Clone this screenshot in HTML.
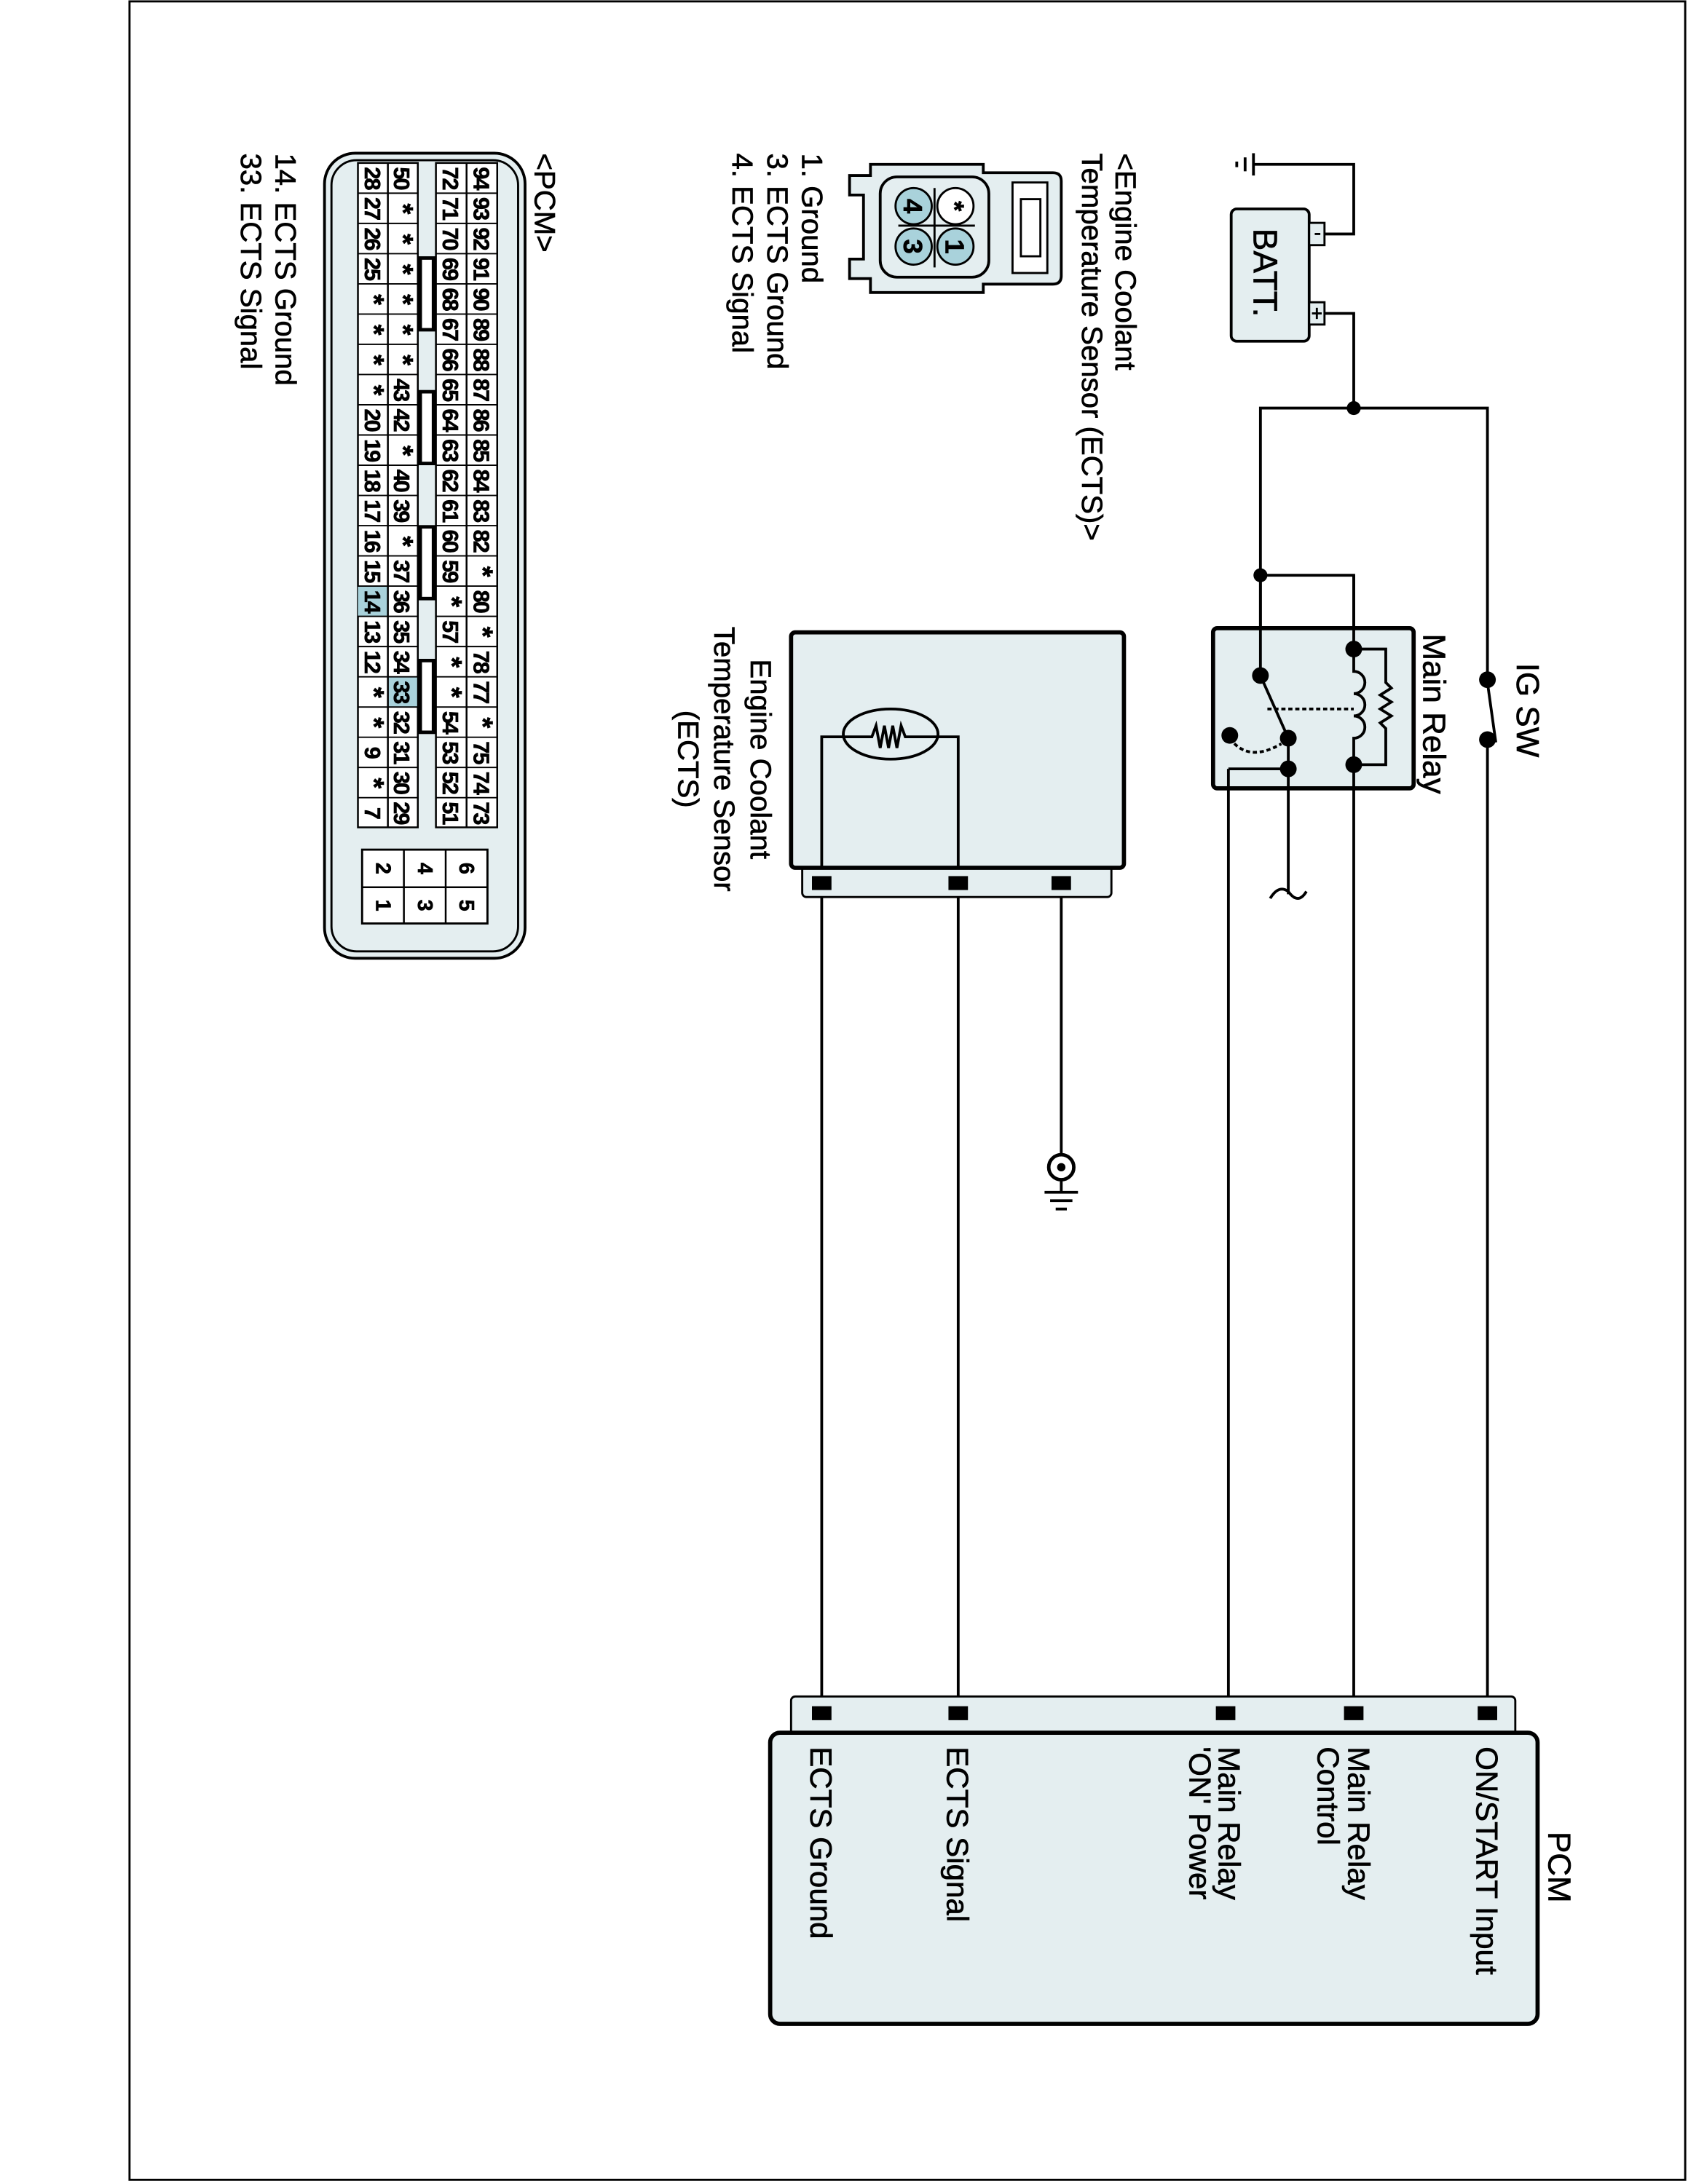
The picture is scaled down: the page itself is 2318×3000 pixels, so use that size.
<!DOCTYPE html>
<html><head><meta charset="utf-8"><style>
html,body{margin:0;padding:0;background:#fff;}
svg{display:block;}
text{font-family:"Liberation Sans",Arial,sans-serif;fill:#000;stroke:#000;stroke-width:0.35;}
</style></head><body>
<svg width="2318" height="3000" viewBox="0 0 1212 1568" preserveAspectRatio="none" xmlns="http://www.w3.org/2000/svg">
<rect x="0" y="0" width="1212" height="1568" fill="#fff"/>
<rect x="93" y="1" width="1117" height="1564" fill="none" stroke="#000" stroke-width="1.5"/>

<g stroke="#000" stroke-width="2" fill="none">
<polyline points="940,168 972,168 972,118 900,118"/>
<polyline points="940,225 972,225 972,293"/>
<polyline points="905,413 905,293 1068,293 1068,488"/>
<polyline points="1068,531 1068,1230"/>
<polyline points="905,413 972,413 972,466"/>
<line x1="905" y1="413" x2="905" y2="485"/>
<line x1="972" y1="549" x2="972" y2="1230"/>
<polyline points="925,552 882,552 882,1230"/>
<polyline points="925,530 925,642"/>
<path d="M912,645 Q918,635 925,640 Q932,650 938,640"/>
<line x1="590" y1="634" x2="590" y2="1230"/>
<line x1="688" y1="634" x2="688" y2="1230"/>
<line x1="762" y1="634" x2="762" y2="830"/>
</g>

<g stroke="#000" stroke-width="2">
<line x1="900" y1="110" x2="900" y2="126"/>
<line x1="894" y1="113" x2="894" y2="123"/>
<line x1="888" y1="116" x2="888" y2="120"/>
</g>

<rect x="884" y="150" width="56" height="95" rx="4" fill="#e4eef0" stroke="#000" stroke-width="2"/>
<rect x="940" y="160" width="11" height="16" fill="#e4eef0" stroke="#000" stroke-width="1.5"/>
<rect x="940" y="217" width="11" height="16" fill="#e4eef0" stroke="#000" stroke-width="1.5"/>
<line x1="944" y1="168" x2="948" y2="168" stroke="#000" stroke-width="1.5"/>
<line x1="942" y1="225" x2="949" y2="225" stroke="#000" stroke-width="1.5"/>
<line x1="945.5" y1="221" x2="945.5" y2="229" stroke="#000" stroke-width="1.5"/>
<text transform="translate(900,164) rotate(90)" font-size="24">BATT.</text>

<circle cx="1068" cy="488" r="6"/>
<circle cx="1068" cy="531" r="6"/>
<line x1="1068" y1="490" x2="1074" y2="533" stroke="#000" stroke-width="2"/>
<text transform="translate(1089,476) rotate(90)" font-size="23">IG SW</text>

<rect x="871" y="451" width="144" height="115" rx="3" fill="#e4eef0" stroke="#000" stroke-width="3"/>
<g stroke="#000" stroke-width="2" fill="none">
<line x1="905" y1="413" x2="905" y2="485"/>
<line x1="972" y1="413" x2="972" y2="466"/>
<polyline points="972,466 995,466 995,490 999,494 991,499 999,504 991,509 999,514 991,519 995,523 995,549 972,549"/>
<path d="M972,466 L972,482 A8,8 0 0 1 972,498 A8,8 0 0 1 972,514 A8,8 0 0 1 972,530 L972,549"/>
<line x1="905" y1="485" x2="925" y2="530"/>
<line x1="925" y1="530" x2="925" y2="552"/>
<line x1="925" y1="552" x2="882" y2="552"/>
<line x1="882" y1="552" x2="882" y2="566"/>
<line x1="972" y1="549" x2="972" y2="566"/>
<line x1="925" y1="552" x2="925" y2="566"/>
<line x1="910" y1="509" x2="972" y2="509" stroke-dasharray="3,2"/>
<path d="M883,530 Q896,548 920,534" stroke-dasharray="3,2"/>
</g>
<circle cx="972" cy="466" r="6"/><circle cx="972" cy="549" r="6"/>
<circle cx="905" cy="485" r="6"/><circle cx="925" cy="530" r="6"/>
<circle cx="883" cy="528" r="6"/><circle cx="925" cy="552" r="6"/>
<circle cx="972" cy="293" r="5"/><circle cx="905" cy="413" r="5"/>
<text transform="translate(1022,455) rotate(90)" font-size="23">Main Relay</text>

<rect x="576" y="615" width="222" height="29" rx="3" fill="#e4eef0" stroke="#000" stroke-width="1.5"/>
<rect x="568" y="454" width="239" height="169" rx="3" fill="#e4eef0" stroke="#000" stroke-width="3"/>
<g stroke="#000" stroke-width="2" fill="none">
<polyline points="590,623 590,529 605,529"/>
<polyline points="688,623 688,529 673,529"/>
<ellipse cx="639.5" cy="527" rx="34" ry="18"/>
<polyline points="605,529 626,529 629,521 632,537 635,521 638,537 641,521 644,537 647,521 650,529 673,529"/>
</g>
<rect x="583" y="629" width="14" height="10"/><rect x="681" y="629" width="14" height="10"/><rect x="755" y="629" width="14" height="10"/>
<text transform="translate(539,545) rotate(90)" font-size="21" text-anchor="middle">Engine Coolant</text>
<text transform="translate(513,545) rotate(90)" font-size="21" text-anchor="middle">Temperature Sensor</text>
<text transform="translate(487,545) rotate(90)" font-size="21" text-anchor="middle">(ECTS)</text>

<circle cx="762" cy="838" r="9" fill="#fff" stroke="#000" stroke-width="2.5"/>
<circle cx="762" cy="838" r="3"/>
<g stroke="#000" stroke-width="2">
<line x1="762" y1="847" x2="762" y2="856"/>
<line x1="750" y1="856" x2="774" y2="856"/>
<line x1="754" y1="862" x2="770" y2="862"/>
<line x1="758" y1="868" x2="766" y2="868"/>
</g>

<rect x="568" y="1218" width="520" height="32" rx="3" fill="#e4eef0" stroke="#000" stroke-width="1.5"/>
<rect x="553" y="1244" width="551" height="209" rx="7" fill="#e4eef0" stroke="#000" stroke-width="3"/>
<rect x="1061" y="1225" width="14" height="10"/><rect x="965" y="1225" width="14" height="10"/><rect x="873" y="1225" width="14" height="10"/><rect x="681" y="1225" width="14" height="10"/><rect x="583" y="1225" width="14" height="10"/>
<text transform="translate(1112,1315) rotate(90)" font-size="23">PCM</text>
<text transform="translate(1060,1254) rotate(90)" font-size="22">ON/START Input</text>
<text transform="translate(968,1254) rotate(90)" font-size="22">Main Relay</text>
<text transform="translate(946,1254) rotate(90)" font-size="22">Control</text>
<text transform="translate(875,1254) rotate(90)" font-size="22">Main Relay</text>
<text transform="translate(854,1254) rotate(90)" font-size="22">'ON' Power</text>
<text transform="translate(680,1254) rotate(90)" font-size="22">ECTS Signal</text>
<text transform="translate(582,1254) rotate(90)" font-size="22">ECTS Ground</text>

<text transform="translate(801,110) rotate(90)" font-size="21">&lt;Engine Coolant</text>
<text transform="translate(777,110) rotate(90)" font-size="21">Temperature Sensor (ECTS)&gt;</text>
<g stroke="#000" stroke-width="2" fill="#e4eef0">
<path d="M610,126 L625,126 L625,118 L706,118 L706,124 L756,124 Q762,124 762,130 L762,198 Q762,204 756,204 L706,204 L706,210 L625,210 L625,200 L610,200 L610,186 L620,186 L620,140 L610,140 Z"/>
<rect x="632" y="127" width="78" height="72" rx="12"/>
<rect x="727" y="131" width="25" height="65" fill="#fff" stroke-width="1.5"/>
<rect x="733" y="143" width="14" height="41" fill="#fff" stroke-width="1.5"/>
</g>
<g stroke="#000" stroke-width="1.5">
<line x1="671" y1="135" x2="671" y2="192"/><line x1="645" y1="162" x2="700" y2="162"/>
<circle cx="686" cy="148" r="13" fill="#fff"/>
<circle cx="686" cy="177" r="13" fill="#a9d2db"/>
<circle cx="656" cy="148" r="13" fill="#a9d2db"/>
<circle cx="656" cy="177" r="13" fill="#a9d2db"/>
</g>
<g font-size="19" font-weight="bold" text-anchor="middle">
<text transform="translate(679,148) rotate(90)">*</text>
<text transform="translate(679,177) rotate(90)">1</text>
<text transform="translate(649,148) rotate(90)">4</text>
<text transform="translate(649,177) rotate(90)">3</text>
</g>
<text transform="translate(576,110) rotate(90)" font-size="21">1. Ground</text>
<text transform="translate(551,110) rotate(90)" font-size="21">3. ECTS Ground</text>
<text transform="translate(526,110) rotate(90)" font-size="21">4. ECTS Signal</text>

<text transform="translate(384,110) rotate(90)" font-size="21">&lt;PCM&gt;</text>
<text transform="translate(198,110) rotate(90)" font-size="21">14. ECTS Ground</text>
<text transform="translate(173,110) rotate(90)" font-size="21">33. ECTS Signal</text>
<rect x="233" y="110" width="144" height="578" rx="22" fill="#e4eef0" stroke="#000" stroke-width="2"/>
<rect x="238" y="115" width="134" height="568" rx="18" fill="none" stroke="#000" stroke-width="1.5"/>
<g stroke="#000" stroke-width="1.3">
<rect x="257" y="117" width="43" height="477" fill="#fff"/>
<rect x="313" y="117" width="44" height="477" fill="#fff"/>
<rect x="257" y="421" width="21" height="21.7" fill="#a9d2db" stroke="none"/>
<rect x="278.5" y="486" width="21" height="21.7" fill="#a9d2db" stroke="none"/>
<line x1="278.5" y1="117" x2="278.5" y2="594"/>
<line x1="335" y1="117" x2="335" y2="594"/>
</g>
<g stroke="#000" stroke-width="1">
<line x1="257" y1="138.7" x2="300" y2="138.7"/><line x1="313" y1="138.7" x2="357" y2="138.7"/>
<line x1="257" y1="160.4" x2="300" y2="160.4"/><line x1="313" y1="160.4" x2="357" y2="160.4"/>
<line x1="257" y1="182.1" x2="300" y2="182.1"/><line x1="313" y1="182.1" x2="357" y2="182.1"/>
<line x1="257" y1="203.8" x2="300" y2="203.8"/><line x1="313" y1="203.8" x2="357" y2="203.8"/>
<line x1="257" y1="225.5" x2="300" y2="225.5"/><line x1="313" y1="225.5" x2="357" y2="225.5"/>
<line x1="257" y1="247.2" x2="300" y2="247.2"/><line x1="313" y1="247.2" x2="357" y2="247.2"/>
<line x1="257" y1="268.9" x2="300" y2="268.9"/><line x1="313" y1="268.9" x2="357" y2="268.9"/>
<line x1="257" y1="290.6" x2="300" y2="290.6"/><line x1="313" y1="290.6" x2="357" y2="290.6"/>
<line x1="257" y1="312.3" x2="300" y2="312.3"/><line x1="313" y1="312.3" x2="357" y2="312.3"/>
<line x1="257" y1="334" x2="300" y2="334"/><line x1="313" y1="334" x2="357" y2="334"/>
<line x1="257" y1="355.7" x2="300" y2="355.7"/><line x1="313" y1="355.7" x2="357" y2="355.7"/>
<line x1="257" y1="377.4" x2="300" y2="377.4"/><line x1="313" y1="377.4" x2="357" y2="377.4"/>
<line x1="257" y1="399.1" x2="300" y2="399.1"/><line x1="313" y1="399.1" x2="357" y2="399.1"/>
<line x1="257" y1="420.8" x2="300" y2="420.8"/><line x1="313" y1="420.8" x2="357" y2="420.8"/>
<line x1="257" y1="442.5" x2="300" y2="442.5"/><line x1="313" y1="442.5" x2="357" y2="442.5"/>
<line x1="257" y1="464.2" x2="300" y2="464.2"/><line x1="313" y1="464.2" x2="357" y2="464.2"/>
<line x1="257" y1="485.9" x2="300" y2="485.9"/><line x1="313" y1="485.9" x2="357" y2="485.9"/>
<line x1="257" y1="507.6" x2="300" y2="507.6"/><line x1="313" y1="507.6" x2="357" y2="507.6"/>
<line x1="257" y1="529.3" x2="300" y2="529.3"/><line x1="313" y1="529.3" x2="357" y2="529.3"/>
<line x1="257" y1="551" x2="300" y2="551"/><line x1="313" y1="551" x2="357" y2="551"/>
<line x1="257" y1="572.7" x2="300" y2="572.7"/><line x1="313" y1="572.7" x2="357" y2="572.7"/>
</g>
<g fill="#000">
<rect x="300" y="184" width="13" height="54"/><rect x="300" y="280" width="13" height="54"/>
<rect x="300" y="377" width="13" height="54"/><rect x="300" y="473" width="13" height="54"/>
</g>
<g fill="#fff" stroke="#000" stroke-width="1">
<rect x="302.5" y="186" width="8" height="50"/><rect x="302.5" y="282" width="8" height="50"/>
<rect x="302.5" y="379" width="8" height="50"/><rect x="302.5" y="475" width="8" height="50"/>
</g>
<g font-size="16" font-weight="bold" text-anchor="middle" letter-spacing="-1">
<text transform="translate(340,127.8) rotate(90)">94</text><text transform="translate(340,149.5) rotate(90)">93</text><text transform="translate(340,171.2) rotate(90)">92</text><text transform="translate(340,192.9) rotate(90)">91</text><text transform="translate(340,214.6) rotate(90)">90</text><text transform="translate(340,236.3) rotate(90)">89</text><text transform="translate(340,258) rotate(90)">88</text><text transform="translate(340,279.7) rotate(90)">87</text><text transform="translate(340,301.4) rotate(90)">86</text><text transform="translate(340,323.1) rotate(90)">85</text><text transform="translate(340,344.8) rotate(90)">84</text><text transform="translate(340,366.5) rotate(90)">83</text><text transform="translate(340,388.2) rotate(90)">82</text><text transform="translate(340,409.9) rotate(90)" font-size="20">*</text><text transform="translate(340,431.6) rotate(90)">80</text><text transform="translate(340,453.3) rotate(90)" font-size="20">*</text><text transform="translate(340,475) rotate(90)">78</text><text transform="translate(340,496.7) rotate(90)">77</text><text transform="translate(340,518.4) rotate(90)" font-size="20">*</text><text transform="translate(340,540.1) rotate(90)">75</text><text transform="translate(340,561.8) rotate(90)">74</text><text transform="translate(340,583.5) rotate(90)">73</text>
<text transform="translate(318,127.8) rotate(90)">72</text><text transform="translate(318,149.5) rotate(90)">71</text><text transform="translate(318,171.2) rotate(90)">70</text><text transform="translate(318,192.9) rotate(90)">69</text><text transform="translate(318,214.6) rotate(90)">68</text><text transform="translate(318,236.3) rotate(90)">67</text><text transform="translate(318,258) rotate(90)">66</text><text transform="translate(318,279.7) rotate(90)">65</text><text transform="translate(318,301.4) rotate(90)">64</text><text transform="translate(318,323.1) rotate(90)">63</text><text transform="translate(318,344.8) rotate(90)">62</text><text transform="translate(318,366.5) rotate(90)">61</text><text transform="translate(318,388.2) rotate(90)">60</text><text transform="translate(318,409.9) rotate(90)">59</text><text transform="translate(318,431.6) rotate(90)" font-size="20">*</text><text transform="translate(318,453.3) rotate(90)">57</text><text transform="translate(318,475) rotate(90)" font-size="20">*</text><text transform="translate(318,496.7) rotate(90)" font-size="20">*</text><text transform="translate(318,518.4) rotate(90)">54</text><text transform="translate(318,540.1) rotate(90)">53</text><text transform="translate(318,561.8) rotate(90)">52</text><text transform="translate(318,583.5) rotate(90)">51</text>
<text transform="translate(283,127.8) rotate(90)">50</text><text transform="translate(283,149.5) rotate(90)" font-size="20">*</text><text transform="translate(283,171.2) rotate(90)" font-size="20">*</text><text transform="translate(283,192.9) rotate(90)" font-size="20">*</text><text transform="translate(283,214.6) rotate(90)" font-size="20">*</text><text transform="translate(283,236.3) rotate(90)" font-size="20">*</text><text transform="translate(283,258) rotate(90)" font-size="20">*</text><text transform="translate(283,279.7) rotate(90)">43</text><text transform="translate(283,301.4) rotate(90)">42</text><text transform="translate(283,323.1) rotate(90)" font-size="20">*</text><text transform="translate(283,344.8) rotate(90)">40</text><text transform="translate(283,366.5) rotate(90)">39</text><text transform="translate(283,388.2) rotate(90)" font-size="20">*</text><text transform="translate(283,409.9) rotate(90)">37</text><text transform="translate(283,431.6) rotate(90)">36</text><text transform="translate(283,453.3) rotate(90)">35</text><text transform="translate(283,475) rotate(90)">34</text><text transform="translate(283,496.7) rotate(90)">33</text><text transform="translate(283,518.4) rotate(90)">32</text><text transform="translate(283,540.1) rotate(90)">31</text><text transform="translate(283,561.8) rotate(90)">30</text><text transform="translate(283,583.5) rotate(90)">29</text>
<text transform="translate(262,127.8) rotate(90)">28</text><text transform="translate(262,149.5) rotate(90)">27</text><text transform="translate(262,171.2) rotate(90)">26</text><text transform="translate(262,192.9) rotate(90)">25</text><text transform="translate(262,214.6) rotate(90)" font-size="20">*</text><text transform="translate(262,236.3) rotate(90)" font-size="20">*</text><text transform="translate(262,258) rotate(90)" font-size="20">*</text><text transform="translate(262,279.7) rotate(90)" font-size="20">*</text><text transform="translate(262,301.4) rotate(90)">20</text><text transform="translate(262,323.1) rotate(90)">19</text><text transform="translate(262,344.8) rotate(90)">18</text><text transform="translate(262,366.5) rotate(90)">17</text><text transform="translate(262,388.2) rotate(90)">16</text><text transform="translate(262,409.9) rotate(90)">15</text><text transform="translate(262,431.6) rotate(90)">14</text><text transform="translate(262,453.3) rotate(90)">13</text><text transform="translate(262,475) rotate(90)">12</text><text transform="translate(262,496.7) rotate(90)" font-size="20">*</text><text transform="translate(262,518.4) rotate(90)" font-size="20">*</text><text transform="translate(262,540.1) rotate(90)">9</text><text transform="translate(262,561.8) rotate(90)" font-size="20">*</text><text transform="translate(262,583.5) rotate(90)">7</text>
</g>
<rect x="260" y="610" width="90" height="53" fill="#fff" stroke="#000" stroke-width="1.5"/>
<g stroke="#000" stroke-width="1.3">
<line x1="290" y1="610" x2="290" y2="663"/><line x1="320" y1="610" x2="320" y2="663"/><line x1="260" y1="637" x2="350" y2="637"/>
</g>
<g font-size="15" font-weight="bold" text-anchor="middle">
<text transform="translate(330,623.5) rotate(90)">6</text><text transform="translate(330,650) rotate(90)">5</text>
<text transform="translate(300,623.5) rotate(90)">4</text><text transform="translate(300,650) rotate(90)">3</text>
<text transform="translate(270,623.5) rotate(90)">2</text><text transform="translate(270,650) rotate(90)">1</text>
</g>
</svg>
</body></html>
